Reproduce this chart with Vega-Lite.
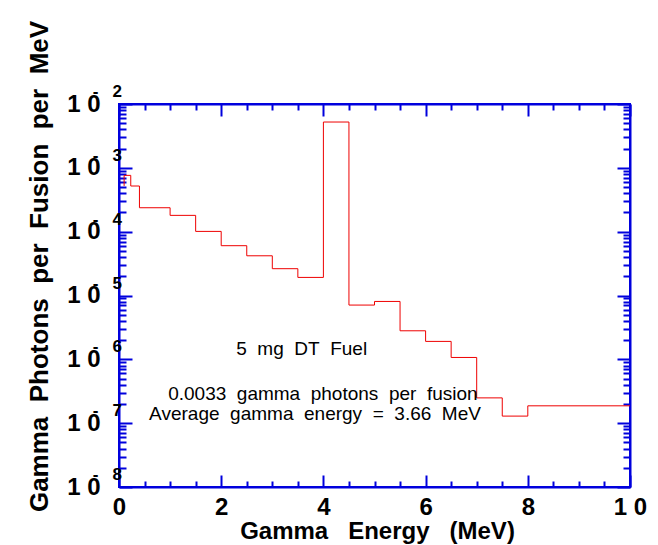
{
  "$schema": "https://vega.github.io/schema/vega-lite/v6.json",
  "width": 511,
  "height": 383,
  "autosize": "none",
  "padding": {"left": 119, "top": 104, "right": 28, "bottom": 58},
  "config": {
    "view": {"stroke": "#0000dd", "strokeWidth": 2},
    "font": "Liberation Sans",
    "axis": {"grid": false}
  },
  "layer": [
    {
      "data": {"values": [
        {"i": 0, "e": 0.1, "p": 5.2e-4},
        {"i": 1, "e": 0.1, "p": 7.62e-4},
        {"i": 2, "e": 0.23, "p": 5.19e-4},
        {"i": 3, "e": 0.4, "p": 2.37e-4},
        {"i": 4, "e": 1.0, "p": 1.80e-4},
        {"i": 5, "e": 1.5, "p": 1.01e-4},
        {"i": 6, "e": 2.0, "p": 6.03e-5},
        {"i": 7, "e": 2.5, "p": 4.19e-5},
        {"i": 8, "e": 3.0, "p": 2.63e-5},
        {"i": 9, "e": 3.5, "p": 1.92e-5},
        {"i": 10, "e": 4.0, "p": 5.22e-3},
        {"i": 11, "e": 4.5, "p": 7.08e-6},
        {"i": 12, "e": 5.0, "p": 8.07e-6},
        {"i": 13, "e": 5.5, "p": 2.80e-6},
        {"i": 14, "e": 6.0, "p": 1.91e-6},
        {"i": 15, "e": 6.5, "p": 1.07e-6},
        {"i": 16, "e": 7.0, "p": 2.49e-7},
        {"i": 17, "e": 7.5, "p": 1.29e-7},
        {"i": 18, "e": 8.0, "p": 1.87e-7},
        {"i": 19, "e": 10.0, "p": 1.87e-7}
      ]},
      "mark": {"type": "line", "interpolate": "step-after", "color": "#ee0000", "strokeWidth": 1},
      "encoding": {
        "order": {"field": "i", "type": "quantitative"},
        "x": {
          "field": "e", "type": "quantitative",
          "scale": {"domain": [0, 10], "nice": false, "zero": false},
          "axis": {
            "orient": "bottom",
            "values": [0,0.5,1,1.5,2,2.5,3,3.5,4,4.5,5,5.5,6,6.5,7,7.5,8,8.5,9,9.5,10],
            "tickSize": {"condition": {"test": "datum.value % 2 == 0", "value": -12}, "value": -6},
            "tickColor": "#0000dd", "tickWidth": 2,
            "domainColor": "#0000dd", "domainWidth": 2,
            "labelExpr": "datum.value % 2 == 0 ? (datum.value == 10 ? '1 0' : format(datum.value, 'd')) : ''",
            "labelFontSize": 24, "labelFontWeight": "bold", "labelColor": "#000000",
            "labelPadding": 20, "labelFlush": false, "labelOverlap": false, "labelBound": false,
            "title": "Gamma\u00a0\u00a0\u00a0Energy\u00a0\u00a0\u00a0(MeV)",
            "titleFontSize": 24, "titleFontWeight": "bold", "titleColor": "#000000",
            "titleX": 258, "titleY": 51, "titleBaseline": "alphabetic", "titleAlign": "center"
          }
        },
        "y": {
          "field": "p", "type": "quantitative",
          "scale": {"type": "log", "domain": [1e-8, 1e-2], "nice": false},
          "axis": {
            "orient": "left",
            "values": [1e-8,2e-8,3e-8,4e-8,5e-8,6e-8,7e-8,8e-8,9e-8,1e-7,2e-7,3e-7,4e-7,5e-7,6e-7,7e-7,8e-7,9e-7,1e-6,2e-6,3e-6,4e-6,5e-6,6e-6,7e-6,8e-6,9e-6,1e-5,2e-5,3e-5,4e-5,5e-5,6e-5,7e-5,8e-5,9e-5,1e-4,2e-4,3e-4,4e-4,5e-4,6e-4,7e-4,8e-4,9e-4,1e-3,2e-3,3e-3,4e-3,5e-3,6e-3,7e-3,8e-3,9e-3,1e-2],
            "tickSize": {"condition": {"test": "abs(log(datum.value)/LN10 - round(log(datum.value)/LN10)) < 0.001", "value": -13}, "value": -7},
            "tickColor": "#0000dd", "tickWidth": 2,
            "domainColor": "#0000dd", "domainWidth": 2,
            "labelExpr": "abs(log(datum.value)/LN10 - round(log(datum.value)/LN10)) < 0.001 ? '1 0' : ''",
            "labelFontSize": 24, "labelFontWeight": "bold", "labelColor": "#000000",
            "labelAlign": "right", "labelBaseline": "middle",
            "labelPadding": 32, "labelOverlap": false, "labelBound": false, "labelFlush": false,
            "title": "Gamma\u00a0\u00a0Photons\u00a0\u00a0per\u00a0\u00a0Fusion\u00a0\u00a0per\u00a0\u00a0MeV",
            "titleFontSize": 26, "titleFontWeight": "bold", "titleColor": "#000000",
            "titleX": -72, "titleY": 162, "titleAngle": -90, "titleBaseline": "alphabetic", "titleAlign": "center"
          }
        }
      }
    },
    {
      "data": {"values": [
        {"x": 3.575, "y": 1.164e-6, "t": "5 mg DT Fuel"},
        {"x": 3.99, "y": 2.30e-7, "t": "0.0033 gamma photons per fusion"},
        {"x": 3.836, "y": 1.114e-7, "t": "Average gamma energy = 3.66 MeV"}
      ]},
      "transform": [{"calculate": "replace(datum.t, / /g, '\u00a0\u00a0')", "as": "tt"}],
      "mark": {"type": "text", "align": "center", "baseline": "alphabetic", "fontSize": 19, "color": "#000000"},
      "encoding": {
        "x": {
          "field": "x", "type": "quantitative",
          "scale": {"domain": [0, 10], "nice": false, "zero": false},
          "axis": {
            "orient": "top",
            "values": [0,0.5,1,1.5,2,2.5,3,3.5,4,4.5,5,5.5,6,6.5,7,7.5,8,8.5,9,9.5,10],
            "tickSize": {"condition": {"test": "datum.value % 2 == 0", "value": -12}, "value": -6},
            "tickColor": "#0000dd", "tickWidth": 2,
            "domainColor": "#0000dd", "domainWidth": 2,
            "labels": false, "title": null
          }
        },
        "y": {
          "field": "y", "type": "quantitative",
          "scale": {"type": "log", "domain": [1e-8, 1e-2], "nice": false},
          "axis": {
            "orient": "right",
            "values": [1e-8,2e-8,3e-8,4e-8,5e-8,6e-8,7e-8,8e-8,9e-8,1e-7,2e-7,3e-7,4e-7,5e-7,6e-7,7e-7,8e-7,9e-7,1e-6,2e-6,3e-6,4e-6,5e-6,6e-6,7e-6,8e-6,9e-6,1e-5,2e-5,3e-5,4e-5,5e-5,6e-5,7e-5,8e-5,9e-5,1e-4,2e-4,3e-4,4e-4,5e-4,6e-4,7e-4,8e-4,9e-4,1e-3,2e-3,3e-3,4e-3,5e-3,6e-3,7e-3,8e-3,9e-3,1e-2],
            "tickSize": {"condition": {"test": "abs(log(datum.value)/LN10 - round(log(datum.value)/LN10)) < 0.001", "value": -13}, "value": -7},
            "tickColor": "#0000dd", "tickWidth": 2,
            "domainColor": "#0000dd", "domainWidth": 2,
            "labels": false, "title": null
          }
        },
        "text": {"field": "tt", "type": "nominal"}
      }
    },
    {
      "data": {"values": [
        {"v": 1e-2, "e": "2"},
        {"v": 1e-3, "e": "3"},
        {"v": 1e-4, "e": "4"},
        {"v": 1e-5, "e": "5"},
        {"v": 1e-6, "e": "6"},
        {"v": 1e-7, "e": "7"},
        {"v": 1e-8, "e": "8"}
      ]},
      "transform": [{"calculate": "'-\u00a0\u00a0\u00a0' + datum.e", "as": "lab"}],
      "mark": {"type": "text", "align": "right", "baseline": "alphabetic", "dx": 3, "dy": -7, "fontSize": 17, "fontWeight": "bold", "color": "#000000"},
      "encoding": {
        "x": {"datum": 0, "type": "quantitative", "scale": {"domain": [0, 10], "nice": false, "zero": false}, "axis": null},
        "y": {"field": "v", "type": "quantitative", "scale": {"type": "log", "domain": [1e-8, 1e-2], "nice": false}, "axis": null},
        "text": {"field": "lab", "type": "nominal"}
      }
    }
  ],
  "resolve": {"axis": {"x": "independent", "y": "independent"}}
}
